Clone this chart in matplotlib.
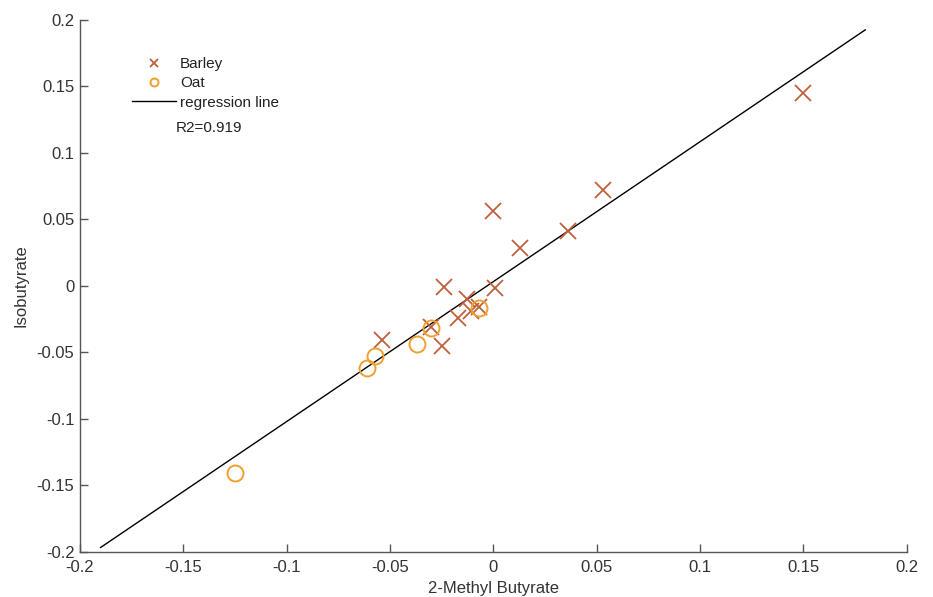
import matplotlib
matplotlib.use("Agg")
import matplotlib.pyplot as plt
import numpy as np

plt.rcParams['font.family'] = ['Liberation Sans', 'DejaVu Sans']

# Barley samples (2-methyl butyrate, isobutyrate)
barley_x = [0.150, 0.053, 0.036, 0.013, 0.000, 0.001, -0.024, -0.0125, -0.011,
            -0.007, -0.017, -0.025, -0.054, -0.030]
barley_y = [0.145, 0.072, 0.041, 0.028, 0.056, -0.002, -0.001, -0.010, -0.019,
            -0.016, -0.024, -0.045, -0.041, -0.031]

# Oat samples
oat_x = [-0.007, -0.030, -0.037, -0.057, -0.061, -0.125]
oat_y = [-0.017, -0.032, -0.044, -0.053, -0.062, -0.141]

# regression line as drawn
reg_x = [-0.19, 0.18]
reg_slope = 1.052
reg_icpt = 0.003
r2_text = "R2=0.919"

xticks = [-0.2, -0.15, -0.1, -0.05, 0, 0.05, 0.1, 0.15, 0.2]
yticks = [-0.2, -0.15, -0.1, -0.05, 0, 0.05, 0.1, 0.15, 0.2]

fig = plt.figure(figsize=(9.33, 5.97), dpi=100)
ax = fig.add_axes([0.0857, 0.076, 0.886, 0.891])

rx = np.array(reg_x)
ax.plot(rx, reg_slope * rx + reg_icpt, color='black', lw=1.0, zorder=1,
        label='regression line')
ax.plot(barley_x, barley_y, 'x', color='#c0603a', ms=11, mew=1.3,
        label='Barley', zorder=2)
ax.plot(oat_x, oat_y, 'o', mfc='none', mec='#f0a030', ms=11.5, mew=1.4,
        label='Oat', zorder=2)

ax.set_xlim(-0.2, 0.2)
ax.set_ylim(-0.2, 0.2)
ax.set_xticks(xticks)
ax.set_yticks(yticks)
ax.set_xticklabels([f"{t:g}" for t in xticks])
ax.set_yticklabels([f"{t:g}" for t in yticks])
ax.spines['top'].set_visible(False)
ax.spines['right'].set_visible(False)
for s in ['left', 'bottom']:
    ax.spines[s].set_color('#555555')
    ax.spines[s].set_linewidth(1.0)
ax.tick_params(direction='in', length=6, width=1.0, colors='#555555',
               labelcolor='#333333', labelsize=12)
ax.tick_params(axis='x', pad=6)
ax.tick_params(axis='y', pad=4)
ax.set_xlabel('2-Methyl Butyrate', fontsize=12, color='#333333', labelpad=4)
ax.set_ylabel('Isobutyrate', fontsize=12, color='#333333', labelpad=6)

h, l = ax.get_legend_handles_labels()
order = [1, 2, 0]
leg = ax.legend([h[i] for i in order], [l[i] for i in order],
                loc='upper left', bbox_to_anchor=(0.063, 0.93), frameon=False,
                borderpad=0, borderaxespad=0,
                fontsize=11, handlelength=2.9, handletextpad=0.25,
                labelspacing=0.35, markerscale=0.5)
for t in leg.get_texts():
    t.set_color('#222222')
ax.text(0.116, 0.797, r2_text, transform=ax.transAxes, fontsize=11,
        color='#222222', va='center')

fig.savefig('out.png', dpi=100)
